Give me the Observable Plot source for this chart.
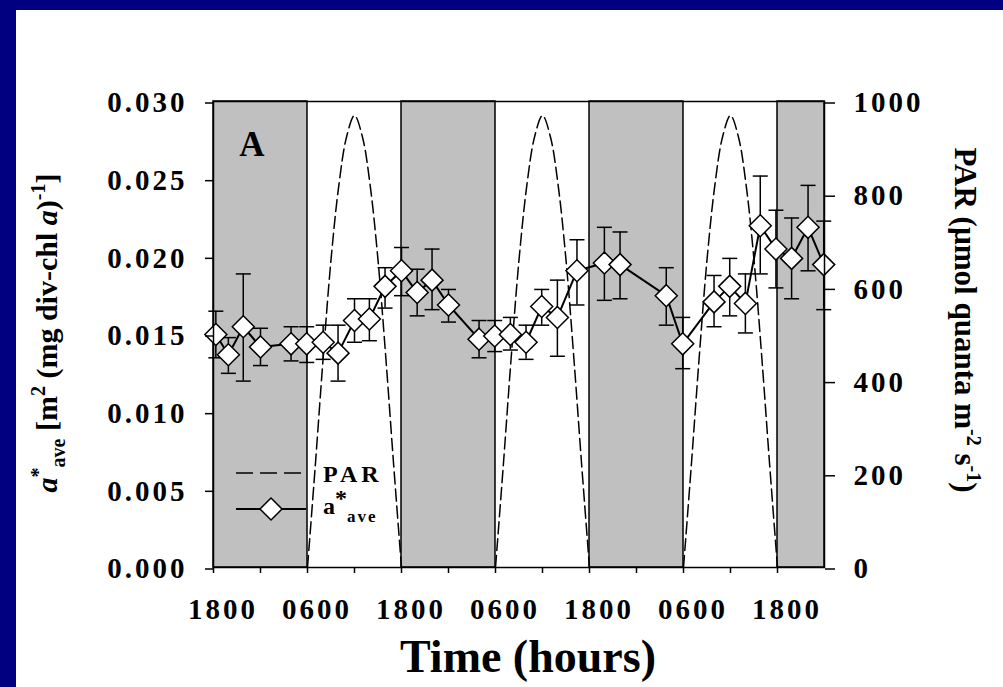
<!DOCTYPE html>
<html><head><meta charset="utf-8">
<script src="https://cdn.jsdelivr.net/npm/d3@7"></script>
<script src="https://cdn.jsdelivr.net/npm/@observablehq/plot@0.6"></script>
<style>
html,body{margin:0;padding:0;background:#000080;width:1003px;height:687px;overflow:hidden;}
#panel{position:absolute;left:16px;top:10px;width:987px;height:677px;background:#fff;}
#chart{position:absolute;left:0;top:0;width:1003px;height:687px;}
</style></head><body><div id="panel"></div><div id="chart"></div>
<script>
// ---- data ----
// time in hours since the first 1800
const hours = [0.3, 1.9, 3.8, 6.0, 9.9, 11.9, 14.0, 15.9, 18.0, 19.9, 21.9, 24.0, 26.0, 27.9, 30.0,
  33.9, 35.9, 37.9, 39.9, 41.9, 43.9, 46.4, 49.9, 51.9, 57.8, 59.9, 63.9, 65.9, 67.9, 69.8, 71.8, 73.8, 75.9, 77.9];
const aStar = [0.0150, 0.0137, 0.0155, 0.0142, 0.0144, 0.0144, 0.0145, 0.0138, 0.0159, 0.0160, 0.0181, 0.0191, 0.0177, 0.0185, 0.0169,
  0.0147, 0.0149, 0.0150, 0.0145, 0.0168, 0.0161, 0.0191, 0.0196, 0.0195, 0.0175, 0.0144, 0.0171, 0.0181, 0.0170, 0.0220, 0.0205, 0.0199, 0.0219, 0.0195];
const errHigh = [0.0165, 0.0148, 0.0189, 0.0154, 0.0155, 0.0155, 0.0156, 0.0156, 0.0173, 0.0173, 0.0193, 0.0206, 0.0192, 0.0205, 0.0179,
  0.0159, 0.0159, 0.0161, 0.0156, 0.0179, 0.0185, 0.0211, 0.0219, 0.0216, 0.0193, 0.0161, 0.0188, 0.0199, 0.0189, 0.0252, 0.0230, 0.0225, 0.0246, 0.0223];
const errLow = [0.0135, 0.0125, 0.0120, 0.0130, 0.0133, 0.0132, 0.0134, 0.0120, 0.0145, 0.0146, 0.0167, 0.0175, 0.0162, 0.0166, 0.0158,
  0.0135, 0.0139, 0.0140, 0.0134, 0.0156, 0.0136, 0.0169, 0.0172, 0.0173, 0.0156, 0.0128, 0.0155, 0.0162, 0.0151, 0.0189, 0.0180, 0.0173, 0.0191, 0.0166];

// night (dark) periods
const nightStart = [0, 24, 48, 72];
const nightEnd = [12, 36, 60, 78];

// PAR (µmol quanta m-2 s-1), hourly from sunrise (0600) to sunset (1800)
const parOffset = [0, 1, 2, 3, 4, 5, 6, 7, 8, 9, 10, 11, 12];
const dayStart = [12, 36, 60];
const parDay1 = [0, 220, 450, 660, 820, 925, 970, 925, 820, 660, 450, 220, 0];
const parDay2 = [0, 220, 450, 660, 820, 925, 970, 925, 820, 660, 450, 220, 0];
const parDay3 = [0, 220, 450, 660, 820, 925, 970, 925, 820, 660, 450, 220, 0];
const parDays = [parDay1, parDay2, parDay3];

// axes
const xTicks = [0, 6, 12, 18, 24, 30, 36, 42, 48, 54, 60, 66, 72];
const xLabelTicks = [0, 12, 24, 36, 48, 60, 72];
const xLabels = ["1800", "0600", "1800", "0600", "1800", "0600", "1800"];
const yTicks = [0, 0.005, 0.010, 0.015, 0.020, 0.025, 0.030];
const parTicks = [0, 200, 400, 600, 800, 1000];
const Y_MAX = 0.030, PAR_MAX = 1000;

// ---- tables ----
const points = hours.map((t, i) => ({t, v: aStar[i], hi: errHigh[i], lo: errLow[i]}));
const nights = nightStart.map((s, i) => ({s, e: nightEnd[i]}));
const par = [];
parDays.forEach((vals, d) => vals.forEach((p, i) => par.push({day: d, t: dayStart[d] + parOffset[i], y: p * Y_MAX / PAR_MAX})));

const diamond = {draw(ctx, size) { const h = Math.sqrt(size / Math.PI); ctx.moveTo(0, -h); ctx.lineTo(h, 0); ctx.lineTo(0, h); ctx.lineTo(-h, 0); ctx.closePath(); }};
const cap = {draw(ctx, size) { const h = Math.sqrt(size / Math.PI); ctx.moveTo(-h, 0); ctx.lineTo(h, 0); }};

const FONT = "Liberation Serif, Times New Roman, serif";

const chart = Plot.plot({
  width: 1003, height: 687,
  marginLeft: 213, marginRight: 179, marginTop: 101, marginBottom: 120,
  style: {background: "transparent", fontFamily: FONT, fontWeight: "bold", fontSize: "29px", letterSpacing: "3px", color: "black", overflow: "visible"},
  x: {domain: [0, 78]},
  y: {domain: [0, Y_MAX]},
  marks: [
    Plot.rect(nights, {x1: "s", x2: "e", y1: 0, y2: Y_MAX, fill: "#c0c0c0", stroke: "black", strokeWidth: 1.5}),
    Plot.line(par, {x: "t", y: "y", z: "day", stroke: "black", strokeWidth: 1.5, strokeDasharray: "12,5", curve: "catmull-rom"}),
    Plot.line(points, {x: "t", y: "v", stroke: "black", strokeWidth: 2}),
    Plot.ruleX(points, {x: "t", y1: "lo", y2: "hi", stroke: "black", strokeWidth: 1.5}),
    Plot.dot(points, {x: "t", y: "hi", symbol: cap, r: 7.5, fill: "none", stroke: "black", strokeWidth: 1.5}),
    Plot.dot(points, {x: "t", y: "lo", symbol: cap, r: 7.5, fill: "none", stroke: "black", strokeWidth: 1.5}),
    Plot.dot(points, {x: "t", y: "v", symbol: diamond, r: 11, fill: "white", stroke: "black", strokeWidth: 1.5}),
    Plot.frame({stroke: "black", strokeWidth: 1.5}),
    Plot.axisX({ticks: xTicks, tickSize: 6, fill: "none", label: null, strokeWidth: 1.5}),
    Plot.axisX({ticks: xLabelTicks, tickSize: 0, tickPadding: 31, dx: 9.5, label: null,
      tickFormat: d => xLabels[xLabelTicks.indexOf(d)]}),
    Plot.axisY({anchor: "left", ticks: yTicks, tickSize: 8, tickPadding: 18, dy: 1.5, strokeWidth: 1.5, label: null,
      tickFormat: d3.format(".3f")}),
    Plot.axisY({anchor: "right", ticks: parTicks.map(p => p * Y_MAX / PAR_MAX), tickSize: 10, tickPadding: 19, dy: 1.5, strokeWidth: 1.5, label: null,
      tickFormat: d => String(Math.round(d * PAR_MAX / Y_MAX))})
  ]
});
document.getElementById("chart").appendChild(chart);

// ---- titles, panel letter and legend ----
const svg = d3.select(chart);
const g = svg.append("g").attr("font-family", FONT).attr("font-weight", "bold").attr("letter-spacing", "0px")
  .attr("fill", "black").attr("text-anchor", "start");

// x title
g.append("text").attr("x", 528).attr("y", 672).attr("text-anchor", "middle").attr("font-size", 46).text("Time (hours)");

// left title
const lt = g.append("text").attr("transform", "translate(57,333) rotate(-90)").attr("text-anchor", "middle").attr("font-size", 30);
lt.append("tspan").attr("font-style", "italic").text("a");
lt.append("tspan").attr("font-size", 20).attr("dy", -12).text("*");
lt.append("tspan").attr("font-size", 20).attr("dy", 20).text("ave");
lt.append("tspan").attr("dy", -8).text(" [m");
lt.append("tspan").attr("font-size", 20).attr("dy", -12).text("2");
lt.append("tspan").attr("dy", 12).text(" (mg div-chl ");
lt.append("tspan").attr("font-style", "italic").text("a");
lt.append("tspan").text(")");
lt.append("tspan").attr("font-size", 20).attr("dy", -12).text("-1");
lt.append("tspan").attr("dy", 12).text("]");

// right title
const rt = g.append("text").attr("transform", "translate(955,320) rotate(90)").attr("text-anchor", "middle").attr("font-size", 31);
rt.append("tspan").text("PAR (µmol quanta m");
rt.append("tspan").attr("font-size", 20).attr("dy", -12).text("-2");
rt.append("tspan").attr("dy", 12).text(" s");
rt.append("tspan").attr("font-size", 20).attr("dy", -12).text("-1");
rt.append("tspan").attr("dy", 12).text(")");

// panel letter
g.append("text").attr("x", 252).attr("y", 156).attr("text-anchor", "middle").attr("font-size", 35).text("A");

// legend
g.append("line").attr("x1", 236).attr("x2", 306).attr("y1", 473).attr("y2", 473)
  .attr("stroke", "black").attr("stroke-width", 1.5).attr("stroke-dasharray", "17,7");
g.append("text").attr("x", 323).attr("y", 482).attr("font-size", 24).attr("letter-spacing", "4px").text("PAR");
g.append("line").attr("x1", 236).attr("x2", 306).attr("y1", 509).attr("y2", 509)
  .attr("stroke", "black").attr("stroke-width", 2);
g.append("path").attr("d", "M271,498L282,509L271,520L260,509Z").attr("fill", "white").attr("stroke", "black").attr("stroke-width", 1.5);
const la = g.append("text").attr("x", 323).attr("y", 514).attr("font-size", 24);
la.append("tspan").text("a");
la.append("tspan").attr("dy", -8).text("*");
la.append("tspan").attr("font-size", 17).attr("dy", 16).attr("letter-spacing", "2px").text("ave");
</script></body></html>
